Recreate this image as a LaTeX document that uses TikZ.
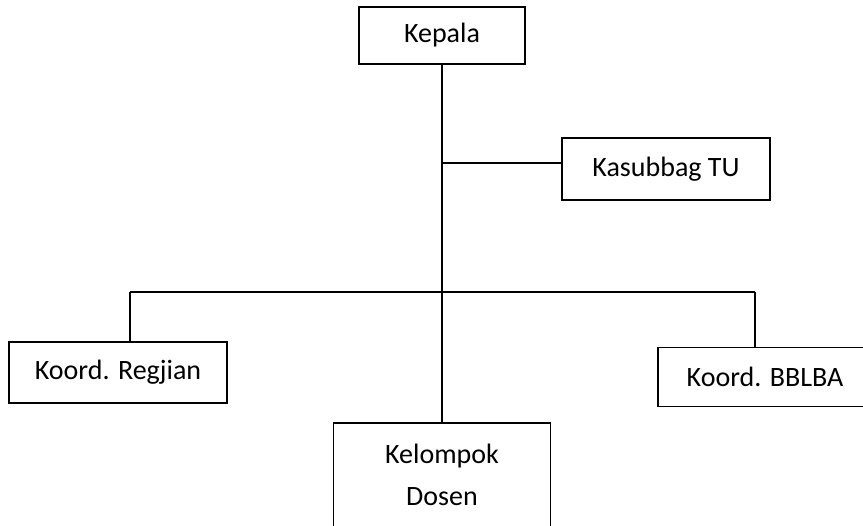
\documentclass[tikz,border=0pt]{standalone}
\usepackage{fontspec}
\setmainfont{Carlito}
\usepackage{tikz}
\usetikzlibrary{positioning,calc}

\begin{document}
\begin{tikzpicture}[
  x=0.75pt,y=-0.75pt,
  link/.style={line width=1pt},
  unit/.style={draw,line width=1pt,inner sep=0pt,align=center},
  every node/.style={font=\fontsize{21}{31.5}\selectfont}
]
\useasboundingbox (0,0) rectangle (863,525);

% Top: head and administration
\node[unit,minimum width=124.5pt,minimum height=42.75pt] (kepala) at (442,35.5) {Kepala};
\node[unit,minimum width=156pt,minimum height=46.5pt] (kasubbag) at (666,169) {Kasubbag TU};

% Bottom row: coordinators and lecturers
\node[unit,minimum width=163.5pt,minimum height=45.75pt] (regjian) at (118,372.5) {Koord. Regjian};
\node[unit,minimum width=160.5pt,minimum height=44.25pt] (bblba) at (765,377) {Koord. BBLBA};
\node[unit,minimum width=162.75pt,minimum height=78pt] (dosen) at (442,475) {Kelompok\\Dosen};

% Junctions
\coordinate (tujoin) at (442,163);
\coordinate (busL) at (130,292);
\coordinate (busR) at (755,292);

\draw[link] (kepala) -- (dosen);
\draw[link] (tujoin) -- (tujoin -| kasubbag.west);
\draw[link] (busL) -- (busR);
\draw[link] (busL) -- (busL |- regjian.north);
\draw[link] (busR) -- (busR |- bblba.north);
\end{tikzpicture}
\end{document}
